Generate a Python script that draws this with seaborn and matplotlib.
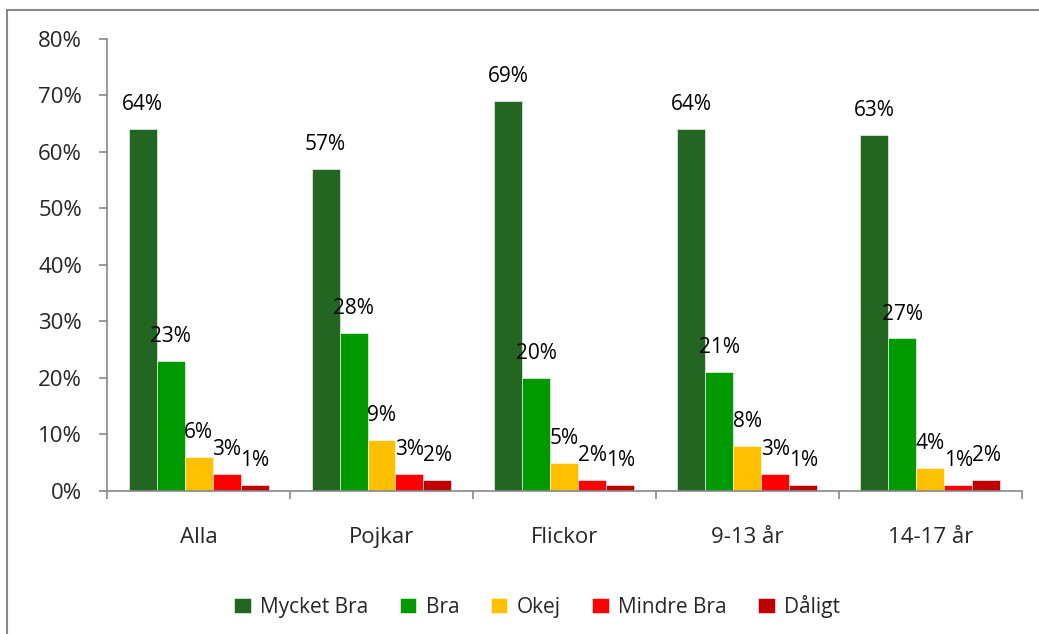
import pandas as pd
import seaborn as sns
import matplotlib.pyplot as plt
from matplotlib.patches import Rectangle
from matplotlib.ticker import PercentFormatter

# values (percent)
groups = ["Alla", "Pojkar", "Flickor", "9-13 år", "14-17 år"]
answers = ["Mycket Bra", "Bra", "Okej", "Mindre Bra", "Dåligt"]
mycket_bra = [64, 57, 69, 64, 63]
bra = [23, 28, 20, 21, 27]
okej = [6, 9, 5, 8, 4]
mindre_bra = [3, 3, 2, 3, 1]
daligt = [1, 2, 1, 1, 2]
colors = ["#226622", "#009900", "#FFC000", "#FF0000", "#C00000"]

df = pd.DataFrame({
    "Grupp": groups * 5,
    "Svar": [a for a in answers for _ in groups],
    "Andel": mycket_bra + bra + okej + mindre_bra + daligt,
})

sns.set_style("white")
plt.rcParams["font.family"] = ["Open Sans", "DejaVu Sans"]

fig = plt.figure(figsize=(10.39, 6.34), dpi=100)
ax = fig.add_axes([0.103, 0.2256, 0.8806, 0.7129])

sns.barplot(data=df, x="Grupp", y="Andel", hue="Svar", order=groups,
            hue_order=answers, palette=colors, saturation=1, width=0.765, gap=0,
            edgecolor="white", linewidth=0.4, ax=ax, legend=True)

for cont in ax.containers:
    ax.bar_label(cont, labels=[f"{v:.0f}%" for v in cont.datavalues],
                 padding=10, fontsize=15, color="black")

ax.set_ylim(0, 80)
ax.set_xlim(-0.5, 4.5)
ax.set_yticks(range(0, 81, 10))
ax.yaxis.set_major_formatter(PercentFormatter(decimals=0))
ax.set_xlabel("")
ax.set_ylabel("")

# ticks: group boundaries on x
ax.set_xticks([i - 0.5 for i in range(6)], minor=True)
ax.tick_params(axis="x", which="major", bottom=False, length=0, pad=26, labelsize=16)
ax.tick_params(axis="x", which="minor", bottom=True, length=6, color="#888888",
               width=1.2, direction="out")
ax.tick_params(axis="y", left=True, length=6, color="#888888", width=1.2,
               direction="out", pad=12, labelsize=16)

for s in ["top", "right"]:
    ax.spines[s].set_visible(False)
for s in ["left", "bottom"]:
    ax.spines[s].set_color("#888888")
    ax.spines[s].set_linewidth(1.2)

leg = ax.legend(loc="center", bbox_to_anchor=(0.47, -0.255), ncol=5, frameon=False,
                fontsize=15, handlelength=0.8, handleheight=0.8,
                handletextpad=0.45, columnspacing=1.5)

# chart frame (partially cropped in reference)
fig.patches.append(Rectangle((7 / 1039, -0.1), 1.2, 1 - 10 / 634 + 0.1,
                             transform=fig.transFigure, fill=False,
                             edgecolor="#888888", linewidth=1.5))

fig.savefig("out.png", dpi=100)
